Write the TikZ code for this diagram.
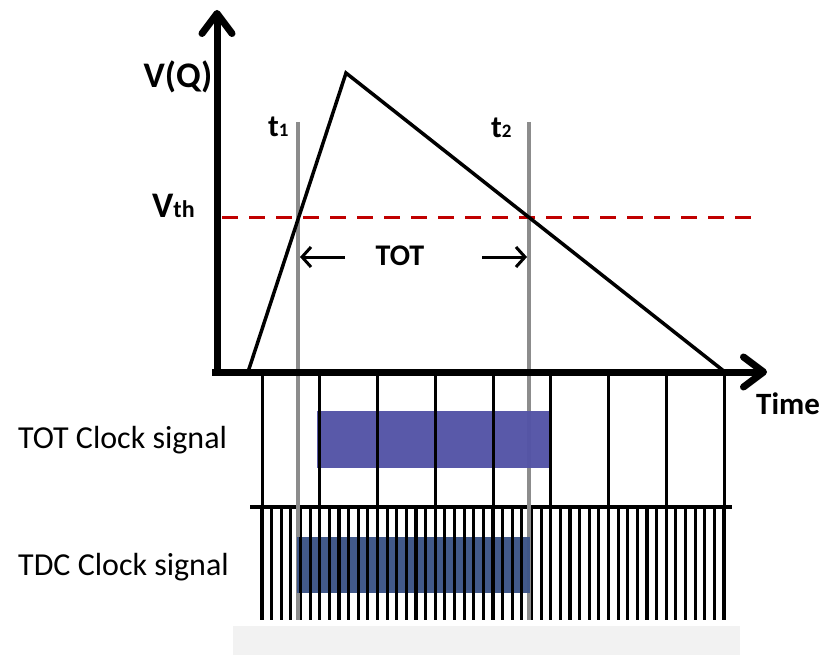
\documentclass[tikz,border=0pt]{standalone}
\usepackage{fontspec}
\setmainfont{Carlito}
\usetikzlibrary{arrows.meta}
\definecolor{vthred}{RGB}{192,0,0}
\definecolor{tgray}{RGB}{140,140,140}
\definecolor{totblue}{RGB}{84,84,166}
\definecolor{tdcblue}{RGB}{60,84,134}
\definecolor{barg}{RGB}{242,242,242}
\begin{document}
\begin{tikzpicture}[x=1pt,y=-1pt,
  axisline/.style={line width=7pt,-{Straight Barb[length=20pt,width=30pt,round]}},
  clk/.style={line width=3pt},
  tmark/.style={line width=4.5pt,tgray},
  pulse/.style={line width=3.5pt,line join=miter},
  bigbold/.style={font=\fontsize{36}{36}\selectfont\bfseries,inner sep=0pt},
  lbl/.style={font=\fontsize{32}{32}\selectfont,inner sep=0pt,anchor=west},
  totarrow/.style={line width=3pt,-{Straight Barb[length=9pt,width=20pt]}}
]
\useasboundingbox (0,0) rectangle (824,655);
% bottom bar
\fill[barg] (233,626) rectangle (740,655);
% coordinates
\coordinate (o) at (217,372);
\coordinate (ytip) at (217,10);
\coordinate (xs) at (212,372);
\coordinate (xtip) at (767,372);
\coordinate (p0) at (248,372);
\coordinate (pk) at (346,73);
\coordinate (p1) at (725,372);
% TOT clock lines
\foreach \i in {0,...,8} {
  \draw[clk] ({262+57.75*\i},372) -- ({262+57.75*\i},507);
}
% TDC clock baseline and lines
\coordinate (tdcl) at (250,507);
\coordinate (tdcr) at (732,507);
\draw[line width=4pt] (tdcl) -- (tdcr);
\foreach \i in {0,...,48} {
  \draw[clk,line width=3.2pt] ({262+9.625*\i},507) -- ({262+9.625*\i},620);
}
% t1, t2 markers
\coordinate (t1top) at (298,122);
\coordinate (t1bot) at (298,620);
\coordinate (t2top) at (529,122);
\coordinate (t2bot) at (529,620);
\draw[tmark] (t1top) -- (t1bot);
\draw[tmark] (t2top) -- (t2bot);
% blue windows
\fill[totblue,opacity=0.97] (317,411) rectangle (549,468);
\fill[tdcblue,opacity=0.97] (297,537) rectangle (530,593);
% redraw clock lines inside windows
\foreach \i in {1,...,5} {
  \draw[clk] ({262+57.75*\i},411) -- ({262+57.75*\i},468);
}
\foreach \i in {4,...,27} {
  \draw[clk,line width=3.2pt] ({262+9.625*\i},537) -- ({262+9.625*\i},593);
}
% threshold
\coordinate (vl) at (222,217);
\coordinate (vr) at (760,217);
\draw[vthred,line width=3pt,dash pattern=on 16pt off 11pt] (vl) -- (vr);
% pulse
\draw[pulse] (p0) -- (pk) -- (p1);
% axes
\draw[axisline] (o) ++(0,3) -- (ytip);
\draw[axisline] (xs) -- (xtip);
% labels
\node[bigbold] (vq) at (178,77) {V(Q)};
\node[inner sep=0pt,anchor=base west] (vth) at (152,218) {\fontsize{36}{36}\selectfont\bfseries V\fontsize{24}{24}\selectfont th};
\node[inner sep=0pt,anchor=base west] (t1) at (268,137) {\fontsize{31}{31}\selectfont\bfseries t\fontsize{19}{19}\selectfont 1};
\node[inner sep=0pt,anchor=base west] (t2) at (491,138) {\fontsize{31}{31}\selectfont\bfseries t\fontsize{19}{19}\selectfont 2};
\node[inner sep=0pt,font=\fontsize{30}{30}\selectfont\bfseries] (tot) at (400,256) {TOT};
\node[inner sep=0pt,anchor=west,font=\fontsize{31}{31}\selectfont\bfseries] (time) at (756,404) {Time};
\node[lbl] (totlbl) at (18,440) {TOT Clock signal};
\node[lbl] (tdclbl) at (18,567) {TDC Clock signal};
% TOT arrows
\coordinate (la) at (345,257);
\coordinate (lb) at (300,257);
\coordinate (ra) at (482,257);
\coordinate (rb) at (527,257);
\draw[totarrow] (la) -- (lb);
\draw[totarrow] (ra) -- (rb);
\end{tikzpicture}
\end{document}
